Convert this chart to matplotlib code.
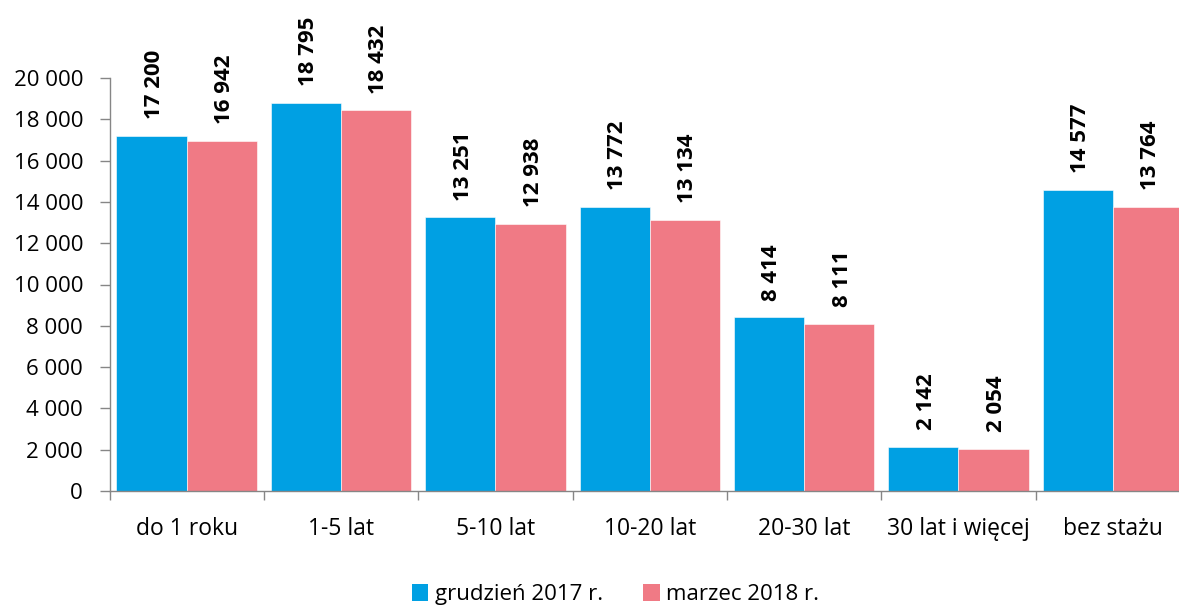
import matplotlib
matplotlib.use("Agg")
import matplotlib.pyplot as plt
import numpy as np
from matplotlib.patches import Patch

categories = ["do 1 roku", "1-5 lat", "5-10 lat", "10-20 lat", "20-30 lat", "30 lat i więcej", "bez stażu"]
series_names = ["grudzień 2017 r.", "marzec 2018 r."]
dec2017 = [17200, 18795, 13251, 13772, 8414, 2142, 14577]
mar2018 = [16942, 18432, 12938, 13134, 8111, 2054, 13764]
yticks = list(range(0, 20001, 2000))

colors = ["#00A0E3", "#F07A85"]

plt.rcParams['font.family'] = ['Open Sans', 'DejaVu Sans']

def fmt(v):
    return f"{v:,}".replace(",", " ")

fig = plt.figure(figsize=(11.79, 6.07), dpi=100)
ax = fig.add_axes([109.5/1179, (607-491)/607, (1190-109.5)/1179, (491-78)/607])

x = np.arange(len(categories))
w = 0.455
b1 = ax.bar(x - w/2, dec2017, w, color=colors[0], edgecolor="white", linewidth=0.4)
b2 = ax.bar(x + w/2, mar2018, w, color=colors[1], edgecolor="white", linewidth=0.4)

for bars, vals in ((b1, dec2017), (b2, mar2018)):
    for r, v in zip(bars, vals):
        ax.annotate(fmt(v), (r.get_x() + r.get_width()/2, v), xytext=(2, 12),
                    textcoords="offset points", rotation=90, ha="center", va="bottom",
                    fontsize=16, fontweight="bold", annotation_clip=False)

ax.set_xlim(-0.5, len(categories) - 0.5)
ax.set_ylim(0, 20000)
ax.set_yticks(yticks)
ax.set_yticklabels([fmt(t) for t in yticks], fontsize=16)
ax.set_xticks(x)
ax.set_xticklabels(categories, fontsize=16.5)
ax.set_xticks(np.arange(len(categories) + 1) - 0.5, minor=True)
ax.tick_params(axis="x", which="major", length=0, pad=19)
ax.tick_params(axis="x", which="minor", length=6.5, width=1, color="#868686")
ax.tick_params(axis="y", length=7, width=1, color="#868686", pad=12)

for s in ("top", "right"):
    ax.spines[s].set_visible(False)
for s in ("left", "bottom"):
    ax.spines[s].set_color("#868686")
    ax.spines[s].set_linewidth(1)

handles = [Patch(facecolor=colors[0]), Patch(facecolor=colors[1])]
fig.legend(handles, series_names, loc="center", bbox_to_anchor=(0.522, 0.02), ncol=2,
           frameon=False, fontsize=16, handlelength=0.75, handleheight=0.75,
           handletextpad=0.3, columnspacing=1.8)

fig.savefig("out.png", dpi=100)
